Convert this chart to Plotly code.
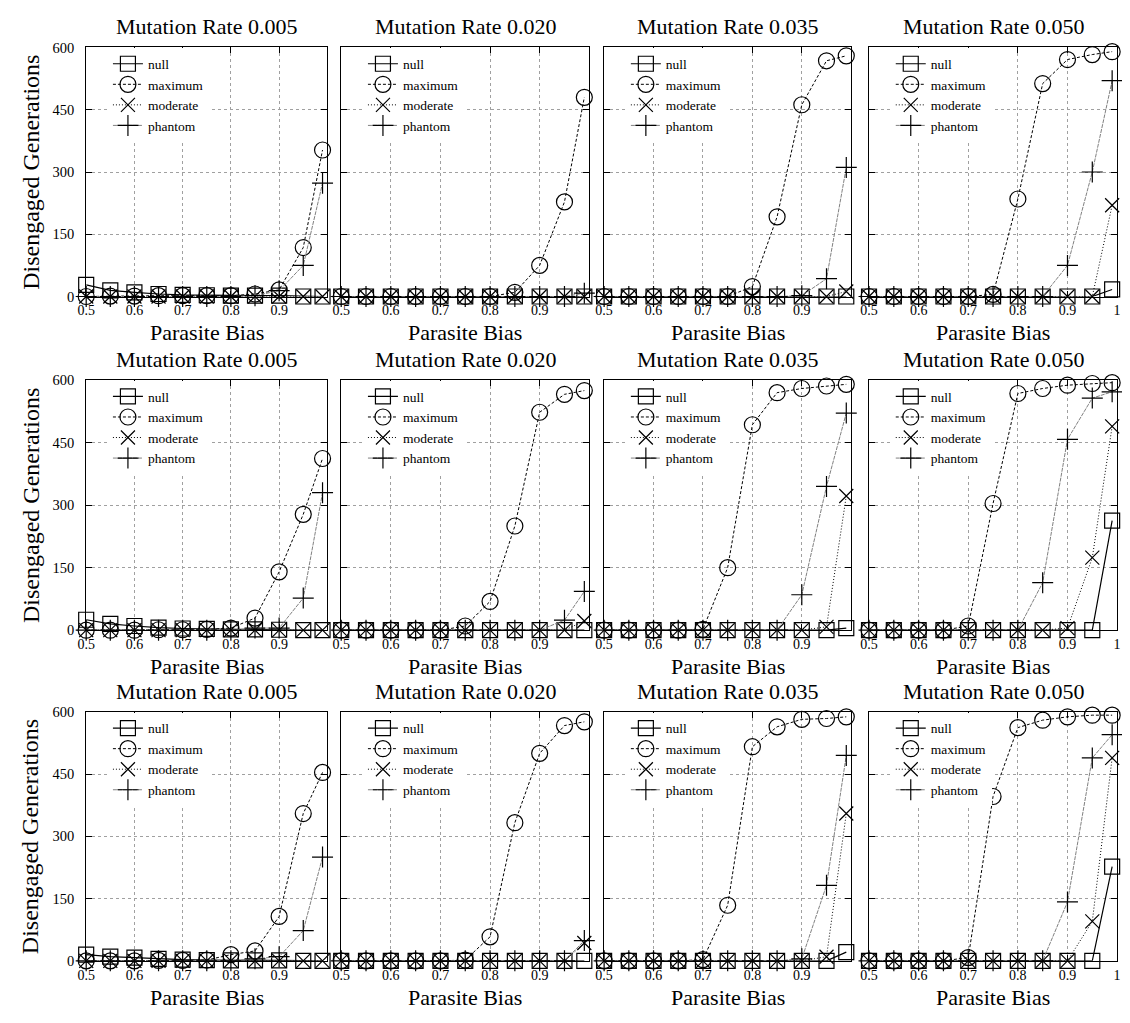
import plotly.graph_objects as go

# ---------------- data ----------------
bias = [0.5, 0.55, 0.6, 0.65, 0.7, 0.75, 0.8, 0.85, 0.9, 0.95, 0.99]
mutation_rates = ["0.005", "0.020", "0.035", "0.050"]
series_names = ["null", "maximum", "moderate", "phantom"]
y_tick_vals = [0, 150, 300, 450, 600]
x_tick_vals = [0.5, 0.6, 0.7, 0.8, 0.9]
x_tick_vals_last = [0.5, 0.6, 0.7, 0.8, 0.9, 1.0]
x_tick_text_last = ["0.5", "0.6", "0.7", "0.8", "0.9", "1"]

# row 1 (one list per mutation-rate column)
row1_null = [
    [28, 15, 10, 6, 4, 3, 2, 2, 2, 0, 0],
    [0, 0, 0, 0, 0, 0, 0, 0, 0, 0, 0],
    [0, 0, 0, 0, 0, 0, 0, 0, 0, 0, 0],
    [0, 0, 0, 0, 0, 0, 0, 0, 0, 0, 17],
]
row1_maximum = [
    [0, 1, 1, 2, 2, 2, 2, 6, 16, 118, 353],
    [0, 0, 0, 0, 0, 0, 0, 10, 75, 228, 480],
    [0, 0, 0, 0, 0, 0, 24, 192, 462, 568, 580],
    [0, 0, 0, 0, 0, 5, 235, 513, 571, 583, 590],
]
row1_moderate = [
    [0, 0, 0, 0, 0, 0, 0, 0, 0, 0, 0],
    [0, 0, 0, 0, 0, 0, 0, 0, 0, 0, 0],
    [0, 0, 0, 0, 0, 0, 0, 0, 0, 0, 12],
    [0, 0, 0, 0, 0, 0, 0, 0, 0, 0, 220],
]
row1_phantom = [
    [0, 0, 0, 0, 0, 0, 0, 2, 14, 75, 273],
    [0, 0, 0, 0, 0, 0, 0, 0, 0, 0, 8],
    [0, 0, 0, 0, 0, 0, 0, 0, 2, 43, 311],
    [0, 0, 0, 0, 0, 0, 0, 0, 75, 300, 520],
]

# row 2
row2_null = [
    [25, 15, 10, 6, 4, 3, 2, 2, 1, 0, 0],
    [0, 0, 0, 0, 0, 0, 0, 0, 0, 0, 0],
    [0, 0, 0, 0, 0, 0, 0, 0, 0, 0, 5],
    [0, 0, 0, 0, 0, 0, 0, 0, 0, 0, 263],
]
row2_maximum = [
    [0, 0, 0, 1, 1, 2, 5, 29, 140, 278, 412],
    [0, 0, 0, 0, 0, 10, 69, 250, 523, 566, 575],
    [0, 0, 0, 0, 2, 150, 493, 570, 580, 586, 590],
    [0, 0, 0, 0, 10, 304, 568, 580, 588, 592, 594],
]
row2_moderate = [
    [0, 0, 0, 0, 0, 0, 0, 0, 0, 0, 0],
    [0, 0, 0, 0, 0, 0, 0, 0, 0, 0, 22],
    [0, 0, 0, 0, 0, 0, 0, 0, 0, 8, 322],
    [0, 0, 0, 0, 0, 0, 0, 0, 5, 174, 489],
]
row2_phantom = [
    [0, 0, 0, 0, 0, 0, 0, 5, 5, 77, 330],
    [0, 0, 0, 0, 0, 0, 0, 0, 0, 24, 93],
    [0, 0, 0, 0, 0, 0, 0, 0, 85, 345, 521],
    [0, 0, 0, 0, 0, 0, 0, 114, 458, 557, 572],
]

# row 3
row3_null = [
    [15, 10, 8, 5, 3, 2, 1, 1, 1, 0, 0],
    [0, 0, 0, 0, 0, 0, 0, 0, 0, 0, 0],
    [0, 0, 0, 0, 0, 0, 0, 0, 0, 0, 21],
    [0, 0, 0, 0, 0, 0, 0, 0, 0, 0, 227],
]
row3_maximum = [
    [0, 0, 0, 1, 1, 2, 15, 24, 107, 355, 454],
    [0, 0, 0, 0, 0, 2, 58, 333, 500, 567, 576],
    [0, 0, 0, 0, 3, 134, 516, 564, 582, 584, 588],
    [0, 0, 0, 0, 8, 396, 562, 580, 588, 592, 592],
]
row3_moderate = [
    [0, 0, 0, 0, 0, 0, 0, 0, 0, 0, 0],
    [0, 0, 0, 0, 0, 0, 0, 0, 0, 0, 43],
    [0, 0, 0, 0, 0, 0, 0, 0, 0, 10, 355],
    [0, 0, 0, 0, 0, 0, 0, 0, 0, 95, 489],
]
row3_phantom = [
    [0, 0, 0, 0, 0, 0, 0, 5, 10, 73, 250],
    [0, 0, 0, 0, 0, 0, 0, 0, 0, 0, 49],
    [0, 0, 0, 0, 0, 0, 0, 0, 5, 182, 495],
    [0, 0, 0, 0, 0, 0, 0, 0, 142, 489, 545],
]

rows = [
    {"null": row1_null, "maximum": row1_maximum, "moderate": row1_moderate, "phantom": row1_phantom},
    {"null": row2_null, "maximum": row2_maximum, "moderate": row2_moderate, "phantom": row2_phantom},
    {"null": row3_null, "maximum": row3_maximum, "moderate": row3_moderate, "phantom": row3_phantom},
]

# ---------------- styling ----------------
FONT = "Liberation Serif"
PAGE_MARGIN = 8                      # default body margin of the html page
W, H = 1130 - PAGE_MARGIN, 1023 - PAGE_MARGIN
# target pixel boxes (window coordinates)
col_px = [(78, 322), (336, 587), (602, 852), (870, 1121)]
row_px = [(40, 293), (378, 632), (715, 968)]


def px_x(v):
    return (v - PAGE_MARGIN) / W


def px_y(v):
    return 1 - (v - PAGE_MARGIN) / H


styles = {
    "null": dict(line=dict(color="black", width=1.2, dash="solid"),
                 marker=dict(symbol="square-open", size=15, color="black", line=dict(width=1.2))),
    "maximum": dict(line=dict(color="black", width=1, dash="3px,2px"),
                    marker=dict(symbol="circle-open", size=16, color="black", line=dict(width=1.2))),
    "moderate": dict(line=dict(color="black", width=1, dash="1px,2px"),
                     marker=dict(symbol="x-thin-open", size=14, color="black", line=dict(width=1.2))),
    "phantom": dict(line=dict(color="#808080", width=1, dash="4px,1px"),
                    marker=dict(symbol="cross-thin-open", size=15, color="black", line=dict(width=1.2))),
}

fig = go.Figure()
annotations = []
layout_updates = {}

k = 0
for r, row in enumerate(rows):
    for c in range(4):
        k += 1
        sfx = "" if k == 1 else str(k)
        leg = "legend" + sfx
        for name in series_names:
            st = styles[name]
            fig.add_trace(go.Scatter(
                x=bias, y=row[name][c], mode="lines+markers", name=name,
                line=st["line"], marker=st["marker"],
                xaxis="x" + sfx, yaxis="y" + sfx, legend=leg,
                cliponaxis=False,
            ))
        x0, x1 = col_px[c]
        y0, y1 = row_px[r]
        last = (c == 3)
        layout_updates["xaxis" + sfx] = dict(
            domain=[px_x(x0), px_x(x1)], anchor="y" + sfx, range=[0.5, 1.0],
            tickmode="array",
            tickvals=x_tick_vals_last if last else x_tick_vals,
            ticktext=x_tick_text_last if last else [str(v) for v in x_tick_vals],
            ticks="inside", ticklen=6, tickcolor="black", tickwidth=1,
            showline=True, linecolor="black", linewidth=1, mirror="allticks",
            showgrid=True, gridcolor="#a0a0a0", gridwidth=1, griddash="dot",
            zeroline=False, ticklabelstandoff=1,
            tickfont=dict(family=FONT, size=14, color="black"),
        )
        layout_updates["yaxis" + sfx] = dict(
            domain=[px_y(y1), px_y(y0)], anchor="x" + sfx, range=[0, 600],
            tickmode="array", tickvals=y_tick_vals,
            showticklabels=(c == 0),
            ticks="inside", ticklen=6, tickcolor="black", tickwidth=1,
            showline=True, linecolor="black", linewidth=1, mirror="allticks",
            showgrid=True, gridcolor="#a0a0a0", gridwidth=1, griddash="dot",
            zeroline=False, ticklabelstandoff=8,
            tickfont=dict(family=FONT, size=14.5, color="black"),
        )
        layout_updates[leg] = dict(
            x=px_x(x0 + 22), y=px_y(y0 + 1), xanchor="left", yanchor="top",
            bgcolor="white", borderwidth=0, itemsizing="trace",
            font=dict(family=FONT, size=13.5, color="black"),
            tracegroupgap=0,
        )
        cx = px_x((x0 + x1) / 2)
        annotations.append(dict(
            text="Mutation Rate " + mutation_rates[c], x=cx, y=px_y(y0 - 21),
            xref="paper", yref="paper", showarrow=False, xanchor="center", yanchor="middle",
            font=dict(family=FONT, size=22, color="black"),
        ))
        annotations.append(dict(
            text="Parasite Bias", x=cx, y=px_y(y1 + 37),
            xref="paper", yref="paper", showarrow=False, xanchor="center", yanchor="middle",
            font=dict(family=FONT, size=22, color="black"),
        ))
    y0, y1 = row_px[r]
    annotations.append(dict(
        text="Disengaged Generations", x=px_x(22), y=px_y((y0 + y1) / 2),
        xref="paper", yref="paper", showarrow=False, textangle=-90,
        xanchor="center", yanchor="middle",
        font=dict(family=FONT, size=24, color="black"),
    ))

fig.update_layout(**layout_updates)
fig.update_layout(
    width=W, height=H, margin=dict(l=0, r=0, t=0, b=0),
    paper_bgcolor="white", plot_bgcolor="white",
    annotations=annotations, showlegend=True,
    font=dict(family=FONT, color="black"),
)

fig.write_html("out.html")
